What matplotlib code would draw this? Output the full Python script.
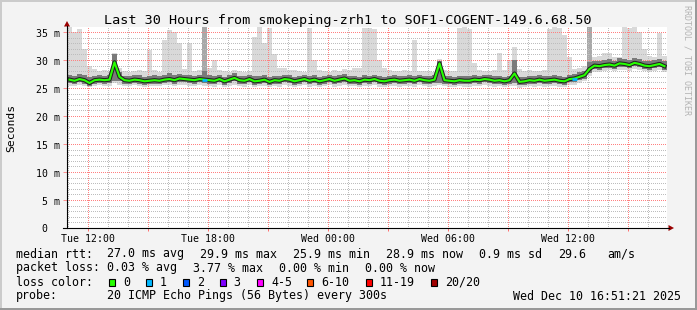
import numpy as np
import matplotlib
matplotlib.use("Agg")
import matplotlib.pyplot as plt
from matplotlib.patches import Rectangle, Polygon
from matplotlib.ticker import MultipleLocator, FuncFormatter
from matplotlib.transforms import offset_copy

# ---------------- data ----------------
title = "Last 30 Hours from smokeping-zrh1 to SOF1-COGENT-149.6.68.50"
y_label = "Seconds"
t_start = 10.95        # hours after Tue 00:00 at the left edge of the graph
t_step = 0.25          # one column = 15 minutes
span_hours = 30

median_ms = [
    26.5, 26.3, 26.6, 26.4, 25.9, 26.4, 26.5, 26.4, 26.5, 29.6, 27.0, 26.4,
    26.3, 26.5, 26.4, 26.2, 26.3, 26.4, 26.3, 26.5, 26.6, 26.4, 26.7, 26.6,
    26.5, 26.4, 26.6, 26.5, 26.4, 26.3, 26.6, 26.2, 26.5, 26.8, 26.4, 26.3,
    26.6, 26.2, 26.3, 26.5, 26.1, 26.4, 26.3, 26.6, 26.5, 26.2, 26.4, 26.6,
    26.3, 26.5, 26.2, 26.4, 26.6, 26.3, 26.5, 26.7, 26.3, 26.4, 26.2, 26.5,
    26.4, 26.6, 26.3, 26.2, 26.4, 26.5, 26.3, 26.4, 26.5, 26.3, 26.6, 26.4,
    26.3, 26.5, 29.4, 26.4, 26.3, 26.2, 26.4, 26.3, 26.3, 26.5, 26.4, 26.6,
    26.5, 26.3, 26.4, 26.2, 26.4, 27.6, 26.1, 26.2, 26.4, 26.3, 26.5, 26.3,
    26.4, 26.5, 26.3, 26.2, 26.6, 26.7, 27.0, 27.3, 28.4, 29.0, 28.9, 29.1,
    29.2, 29.0, 29.4, 29.3, 29.1, 29.5, 29.3, 29.0, 28.9, 29.1, 29.3, 28.9,
]
smoke_min = [
    25.4, 25.3, 25.5, 25.4, 25.2, 25.4, 25.5, 25.3, 25.4, 25.9, 25.6, 25.4,
    25.3, 25.5, 25.4, 25.2, 25.3, 25.4, 25.3, 25.5, 25.5, 25.4, 25.6, 25.5,
    25.4, 25.3, 25.5, 25.4, 25.3, 25.2, 25.5, 25.2, 25.4, 25.6, 25.3, 25.2,
    25.5, 25.2, 25.3, 25.4, 25.1, 25.3, 25.2, 25.5, 25.4, 25.2, 25.3, 25.5,
    25.2, 25.4, 25.2, 25.3, 25.5, 25.2, 25.4, 25.6, 25.3, 25.3, 25.2, 25.4,
    25.3, 25.5, 25.2, 25.1, 25.3, 25.4, 25.2, 25.3, 25.4, 25.2, 25.5, 25.3,
    25.2, 25.4, 25.5, 25.3, 25.2, 25.1, 25.3, 25.2, 25.2, 25.4, 25.3, 25.5,
    25.4, 25.2, 25.3, 25.1, 25.3, 25.4, 25.0, 25.1, 25.3, 25.2, 25.4, 25.2,
    25.3, 25.4, 25.2, 25.1, 25.5, 25.6, 25.9, 26.2, 27.2, 27.9, 27.9, 28.1,
    28.2, 28.0, 28.3, 28.2, 28.1, 28.4, 28.2, 28.0, 27.9, 28.1, 28.2, 27.9,
]
smoke_lo = [
    25.9, 25.7, 26.0, 25.8, 25.4, 25.8, 25.9, 25.8, 25.9, 26.2, 26.2, 25.8,
    25.7, 25.9, 25.8, 25.6, 25.7, 25.8, 25.7, 25.9, 26.0, 25.8, 26.1, 26.0,
    25.9, 25.8, 26.0, 25.9, 25.8, 25.7, 26.0, 25.6, 25.9, 26.2, 25.8, 25.7,
    26.0, 25.6, 25.7, 25.9, 25.5, 25.8, 25.7, 26.0, 25.9, 25.6, 25.8, 26.0,
    25.7, 25.9, 25.6, 25.8, 26.0, 25.7, 25.9, 26.1, 25.7, 25.8, 25.6, 25.9,
    25.8, 26.0, 25.7, 25.6, 25.8, 25.9, 25.7, 25.8, 25.9, 25.7, 26.0, 25.8,
    25.7, 25.9, 25.9, 25.8, 25.7, 25.6, 25.8, 25.7, 25.7, 25.9, 25.8, 26.0,
    25.9, 25.7, 25.8, 25.6, 25.8, 25.9, 25.5, 25.6, 25.8, 25.7, 25.9, 25.7,
    25.8, 25.9, 25.7, 25.6, 26.0, 26.1, 26.4, 26.7, 27.7, 28.4, 28.3, 28.5,
    28.6, 28.4, 28.8, 28.7, 28.5, 28.9, 28.7, 28.4, 28.3, 28.5, 28.7, 28.3,
]
smoke_hi = [
    27.3, 27.2, 27.5, 27.3, 26.9, 27.2, 27.3, 27.2, 27.4, 31.0, 27.8, 27.2,
    27.1, 27.3, 27.3, 27.0, 27.2, 27.3, 27.1, 27.4, 27.6, 27.3, 27.5, 27.4,
    27.3, 27.2, 27.4, 28.0, 27.3, 27.2, 27.4, 27.0, 27.3, 27.6, 27.2, 27.1,
    27.4, 27.1, 27.2, 27.3, 27.0, 27.2, 27.1, 27.4, 27.3, 27.0, 27.2, 27.4,
    27.1, 27.3, 27.0, 27.2, 27.4, 27.1, 27.3, 27.5, 27.1, 27.2, 27.0, 27.3,
    27.2, 27.4, 27.1, 27.0, 27.2, 27.3, 27.1, 27.2, 27.3, 27.1, 27.4, 27.2,
    27.1, 27.3, 29.9, 27.2, 27.1, 27.0, 27.2, 27.1, 27.1, 27.3, 27.2, 27.4,
    27.3, 27.1, 27.2, 27.0, 27.2, 30.0, 27.0, 27.0, 27.2, 27.1, 27.3, 27.1,
    27.2, 27.3, 27.1, 27.0, 27.4, 27.5, 27.8, 28.1, 29.6, 29.9, 29.8, 30.0,
    30.1, 29.9, 30.3, 30.2, 30.0, 30.4, 30.2, 29.9, 29.8, 30.0, 30.2, 29.8,
]
smoke_max = [
    35.9, 35.0, 35.6, 32.0, 29.0, 28.4, 28.0, 28.2, 28.0, 31.3, 28.6, 28.0,
    27.9, 28.1, 28.3, 28.0, 31.8, 28.2, 27.9, 33.5, 35.4, 35.0, 33.0, 28.4,
    33.0, 28.1, 28.3, 28.8, 28.6, 30.0, 28.3, 28.0, 27.9, 28.2, 28.0, 27.8,
    28.1, 34.1, 35.9, 33.0, 35.8, 31.0, 28.5, 28.5, 28.3, 28.2, 28.0, 27.9,
    35.7, 30.0, 28.2, 28.0, 27.9, 28.3, 28.0, 28.4, 28.2, 28.5, 28.6, 35.7,
    35.8, 35.6, 30.0, 28.6, 28.3, 28.1, 28.0, 28.2, 28.0, 33.6, 28.1, 28.0,
    28.0, 27.9, 30.2, 28.3, 28.0, 28.1, 35.8, 35.9, 35.6, 29.5, 28.2, 28.0,
    28.1, 28.3, 31.2, 28.2, 30.0, 32.3, 28.4, 28.0, 28.2, 28.0, 28.1, 28.3,
    35.6, 35.9, 35.8, 34.5, 30.6, 28.4, 28.6, 29.0, 30.8, 30.5, 30.8, 31.2,
    31.2, 30.6, 30.5, 35.9, 35.8, 35.9, 35.0, 32.0, 30.8, 30.6, 34.8, 30.8,
]

# columns where most pings were slow (darker smoke up to the top)
burst_bins = [27, 104]
burst_top = [36.0, 36.0]

# columns with packet loss (index into loss colour table)
loss_bins = [27, 101]
loss_level = [1, 1]

ytick_vals = [0, 5, 10, 15, 20, 25, 30, 35]
ytick_labels = [" 0", " 5 m", "10 m", "15 m", "20 m", "25 m", "30 m", "35 m"]
xtick_hours = [12, 18, 24, 30, 36]
xtick_labels = ["Tue 12:00", "Tue 18:00", "Wed 00:00", "Wed 06:00", "Wed 12:00"]

rtt_head = "median rtt:"
rtt_items = ["27.0 ms avg", "29.9 ms max", "25.9 ms min", "28.9 ms now",
             "0.9 ms sd", "29.6", "am/s"]
loss_head = "packet loss:"
loss_items = ["0.03 % avg", "3.77 % max", "0.00 % min", "0.00 % now"]
lc_head = "loss color:"
lc_labels = ["0", "1", "2", "3", "4-5", "6-10", "11-19", "20/20"]
lc_colors = ["#26ff00", "#00b8ff", "#0059ff", "#7e00ff", "#ff00ff",
             "#ff5500", "#ff0000", "#a10000"]
probe_head = "probe:"
probe_text = "20 ICMP Echo Pings (56 Bytes) every 300s"
stamp_text = "Wed Dec 10 16:51:21 2025"
credit = "RRDTOOL / TOBI OETIKER"

# ---------------- layout (pixels) ----------------
W, H, DPI = 697, 310, 100
L, R, T, B = 67, 667, 27, 228
mono = "DejaVu Sans Mono"
plt.rcParams["font.family"] = [mono]

fig = plt.figure(figsize=(W / DPI, H / DPI), dpi=DPI)
fig.patch.set_facecolor("#f3f3f3")

ax = fig.add_axes([L / W, 1 - B / H, (R - L) / W, (B - T) / H])
ax.set_facecolor("white")
ax.set_xlim(t_start, t_start + span_hours)
ax.set_ylim(0, 35.9)
for s in ax.spines.values():
    s.set_visible(False)

n = len(median_ms)
edges = t_start + t_step * np.arange(n + 1)
centers = edges[:-1] + t_step / 2

def stepvals(a):
    a = np.asarray(a, dtype=float)
    return np.append(a, a[-1])

ax.fill_between(edges, stepvals(smoke_min), stepvals(smoke_max), step="post",
                color="#d9d9d9", linewidth=0, zorder=1)
hi = np.asarray(smoke_hi)
ax.bar(edges[burst_bins], np.asarray(burst_top) - hi[burst_bins], bottom=hi[burst_bins],
       width=t_step, align="edge", color="#a9a9a9", linewidth=0, zorder=1.1)
ax.fill_between(edges, stepvals(smoke_lo), stepvals(smoke_hi), step="post",
                color="#7a7a7a", linewidth=0, zorder=4)

ax.plot(centers, median_ms, color="#222222", lw=3.0, zorder=5.5)
ax.plot(centers, median_ms, color="#26ff00", lw=1.5, zorder=6)
med = np.asarray(median_ms)
for b, lv in zip(loss_bins, loss_level):
    ax.plot([edges[b], edges[b + 1]], [med[b], med[b]], color=lc_colors[lv],
            lw=2.0, zorder=7, solid_capstyle="butt")

# dotted grid (offset keeps 1px dots aligned to the pixel grid)
ax.xaxis.set_major_locator(MultipleLocator(3))
ax.xaxis.set_minor_locator(MultipleLocator(1))
ax.yaxis.set_major_locator(MultipleLocator(5))
ax.yaxis.set_minor_locator(MultipleLocator(1))
ax.set_axisbelow(False)
ax.grid(which="minor", color="#bdbdbd", lw=0.72, ls=(0.5, (1, 1)), zorder=3)
ax.grid(which="major", color="#ff8080", lw=0.72, ls=(0.5, (1, 1)), zorder=3.5)

lab_map = dict(zip(xtick_hours, xtick_labels))
ax.xaxis.set_major_formatter(FuncFormatter(
    lambda v, p: lab_map.get(int(round(v)), "")))
ax.tick_params(axis="x", which="major", length=2, width=0.72, color="#ff7070",
               direction="out", pad=2.0, labelsize=7.1, labelcolor="black")
ax.tick_params(axis="x", which="minor", length=0)
ax.tick_params(axis="y", which="major", length=3, width=0.72, color="#ff9090",
               direction="out", labelleft=False)
ax.tick_params(axis="y", which="minor", length=0)

ytr = offset_copy(ax.get_yaxis_transform(), fig=fig, x=0, y=-4.5, units="dots")
for v, lab in zip(ytick_vals, ytick_labels):
    ax.text(-31 / (R - L), v, lab, transform=ytr, ha="left", va="baseline",
            fontsize=7.1, family=mono, clip_on=False)

# ---------------- overlay in pixel coordinates ----------------
ov = fig.add_axes([0, 0, 1, 1])
ov.set_xlim(0, W)
ov.set_ylim(H, 0)
ov.axis("off")
ov.patch.set_alpha(0)

ov.add_patch(Rectangle((0, 0), W, 2, color="#cbcbcb", lw=0))
ov.add_patch(Rectangle((0, 0), 2, H, color="#cbcbcb", lw=0))
ov.add_patch(Rectangle((0, H - 2), W, 2, color="#999999", lw=0))
ov.add_patch(Rectangle((W - 2, 0), 2, H, color="#999999", lw=0))

ov.plot([L, L], [B, 26], color="black", lw=0.8)
ov.plot([63, 669], [B, B], color="black", lw=0.8)
ov.add_patch(Polygon([[64, 26.5], [70, 26.5], [67, 21]], closed=True,
                     color="#9a0000", lw=0))
ov.add_patch(Polygon([[668.5, 225], [668.5, 231], [674, 228]], closed=True,
                     color="#9a0000", lw=0))

ov.text(347.5, 24, title, ha="center", va="baseline", fontsize=9.7, family=mono)
ov.text(11, 127.5, y_label, rotation=90, ha="center", va="center",
        fontsize=8.2, family=mono)
ov.text(687, 5, credit, rotation=270, ha="center", va="top", fontsize=6,
        family=mono, color="#b3b3b3")

fs = 8.4
rtt_x = [107, 200, 293, 386, 479, 558, 607]
ov.text(16, 257.5, rtt_head, fontsize=fs, family=mono, va="baseline")
for x, s in zip(rtt_x, rtt_items):
    ov.text(x, 257.5, s, fontsize=fs, family=mono, va="baseline")

loss_x = [107, 193, 279, 365]
ov.text(16, 271.5, loss_head, fontsize=fs, family=mono, va="baseline")
for x, s in zip(loss_x, loss_items):
    ov.text(x, 271.5, s, fontsize=fs, family=mono, va="baseline")

box_x = [109, 146, 183, 219.5, 257, 307, 365.5, 431]
ov.text(16, 285.5, lc_head, fontsize=fs, family=mono, va="baseline")
for x, lab, c in zip(box_x, lc_labels, lc_colors):
    ov.add_patch(Rectangle((x, 279.3), 6.2, 6.2, facecolor=c, edgecolor="black", lw=0.8))
    ov.text(x + 14, 285.5, lab, fontsize=fs, family=mono, va="baseline")

ov.text(16, 299.5, probe_head, fontsize=fs, family=mono, va="baseline")
ov.text(107, 299.5, probe_text, fontsize=fs, family=mono, va="baseline")
ov.text(513, 299.5, stamp_text, fontsize=fs, family=mono, va="baseline")

fig.savefig("out.png", dpi=DPI, facecolor=fig.get_facecolor())
